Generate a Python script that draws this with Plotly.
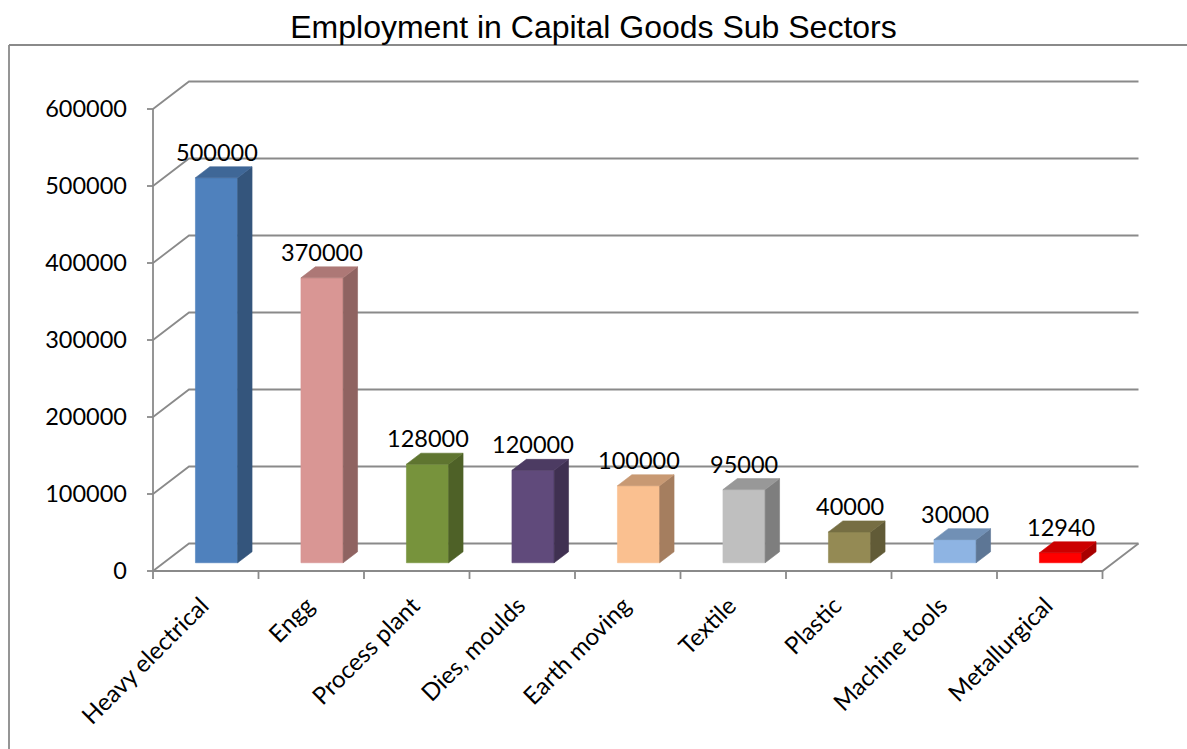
import plotly.graph_objects as go

# ---- data ----
categories = ["Heavy electrical", "Engg", "Process plant", "Dies, moulds",
              "Earth moving", "Textile", "Plastic", "Machine tools", "Metallurgical"]
employment = [500000, 370000, 128000, 120000, 100000, 95000, 40000, 30000, 12940]
front_colors = ["#4F81BD", "#D99694", "#77933C", "#604A7B", "#FAC090",
                "#BFBFBF", "#948A54", "#8EB4E3", "#FF0000"]
y_ticks = [0, 100000, 200000, 300000, 400000, 500000, 600000]

# ---- canvas geometry (pixels) ----
W, H = 1187, 749
PLOT_L, PLOT_R, PLOT_T, PLOT_B = 140, 1150, 70, 585
X0_PX = 153            # pixel of x = 0 (front plane)
CAT_PX = 105.5         # pixels per category
Y0_PX = 571            # pixel of value 0 (front plane)
PX_PER_VAL = 77 / 100000
DEPTH_DX_PX, DEPTH_DY_PX = 36, 27.5   # floor depth offset (right, up)

DX = DEPTH_DX_PX / CAT_PX
DY = DEPTH_DY_PX / PX_PER_VAL

x_range = [(PLOT_L - X0_PX) / CAT_PX, (PLOT_R - X0_PX) / CAT_PX]
y_range = [-(PLOT_B - Y0_PX) / PX_PER_VAL, (Y0_PX - PLOT_T) / PX_PER_VAL]

GRID = "#8A8A8A"
FONT = "Lato"
N = len(categories)
BAR_LO, BAR_HI = 0.3, 0.7      # bar extent inside category (and depth)


def proj(x, v, d):
    """Oblique projection of (category x, value v, depth d in 0..1)."""
    return x + d * DX, v + d * DY


def shade(hex_color, k):
    r, g, b = (int(hex_color[i:i + 2], 16) for i in (1, 3, 5))
    return "#{:02X}{:02X}{:02X}".format(int(r * k), int(g * k), int(b * k))


fig = go.Figure()


def add_path(points, color, width):
    xs, ys = [], []
    for seg in points:
        for p in seg:
            px, py = proj(*p)
            xs.append(px)
            ys.append(py)
        xs.append(None)
        ys.append(None)
    fig.add_trace(go.Scatter(x=xs, y=ys, mode="lines",
                             line=dict(color=color, width=width),
                             hoverinfo="skip", showlegend=False))


# back wall gridlines and left wall diagonals
walls = []
for t in y_ticks:
    walls.append([(0, t, 0), (0, t, 1), (N, t, 1)])
# floor front edge and right edge, value axis line
walls.append([(0, 0, 0), (N, 0, 0), (N, 0, 1)])
walls.append([(0, 0, 0), (0, y_ticks[-1], 0)])
add_path(walls, GRID, 1.8)

# tick marks on both axes
tick_segs = []
ylen = 6 / CAT_PX
for t in y_ticks:
    tick_segs.append([(-ylen, t, 0), (0, t, 0)])
xlen = 8 / PX_PER_VAL
for i in range(N + 1):
    tick_segs.append([(i, 0, 0), (i, -xlen, 0)])
add_path(tick_segs, GRID, 1.8)


def add_face(pts, color):
    xs, ys = zip(*(proj(*p) for p in pts))
    fig.add_trace(go.Scatter(x=list(xs) + [xs[0]], y=list(ys) + [ys[0]],
                             mode="lines", fill="toself", fillcolor=color,
                             line=dict(color=color, width=0.6),
                             hoverinfo="skip", showlegend=False))


# 3-D style columns
for i, (v, c) in enumerate(zip(employment, front_colors)):
    a, b = i + BAR_LO, i + BAR_HI
    add_face([(a, 0, BAR_LO), (b, 0, BAR_LO), (b, v, BAR_LO), (a, v, BAR_LO)], c)
    add_face([(b, 0, BAR_LO), (b, 0, BAR_HI), (b, v, BAR_HI), (b, v, BAR_LO)], shade(c, 0.66))
    add_face([(a, v, BAR_LO), (b, v, BAR_LO), (b, v, BAR_HI), (a, v, BAR_HI)], shade(c, 0.8))

# value labels above each column
annotations = []
for i, v in enumerate(employment):
    lx, ly = proj(i + 0.5, v, BAR_LO)
    annotations.append(dict(x=lx, y=ly, xref="x", yref="y", text=str(v),
                            showarrow=False, yshift=26, yanchor="middle",
                            font=dict(family=FONT, size=23.5, color="black")))

# chart frame (left and top edges visible)
pw, ph = PLOT_R - PLOT_L, PLOT_B - PLOT_T
def px_x(px): return (px - PLOT_L) / pw
def px_y(py): return (PLOT_B - py) / ph

shapes = [
    dict(type="line", xref="paper", yref="paper", x0=px_x(9), y0=px_y(45),
         x1=px_x(W + 20), y1=px_y(45), line=dict(color=GRID, width=1.8)),
    dict(type="line", xref="paper", yref="paper", x0=px_x(9), y0=px_y(45),
         x1=px_x(9), y1=px_y(H + 20), line=dict(color=GRID, width=1.8)),
]

fig.update_layout(
    width=W, height=H,
    margin=dict(l=PLOT_L, r=W - PLOT_R, t=PLOT_T, b=H - PLOT_B, autoexpand=False),
    paper_bgcolor="white", plot_bgcolor="white",
    title=dict(text="Employment in Capital Goods Sub Sectors",
               x=0.5, xref="container", xanchor="center",
               y=1 - 27 / H, yref="container", yanchor="middle",
               font=dict(family="Liberation Sans", size=32, color="black")),
    xaxis=dict(range=x_range, tickvals=[i + 0.5 for i in range(N)],
               ticktext=categories, tickangle=-45, ticks="",
               showgrid=False, zeroline=False, showline=False,
               tickfont=dict(family=FONT, size=24, color="black"),
               ticklabelstandoff=1, ticklabelshift=-4,
               automargin=False, fixedrange=True),
    yaxis=dict(range=y_range, tickvals=y_ticks, ticktext=[str(t) for t in y_ticks],
               ticks="", showgrid=False, zeroline=False, showline=False,
               tickfont=dict(family=FONT, size=23.5, color="black"),
               ticklabelstandoff=12, automargin=False, fixedrange=True),
    annotations=annotations,
    shapes=shapes,
    showlegend=False,
)

fig.write_html("out.html")
